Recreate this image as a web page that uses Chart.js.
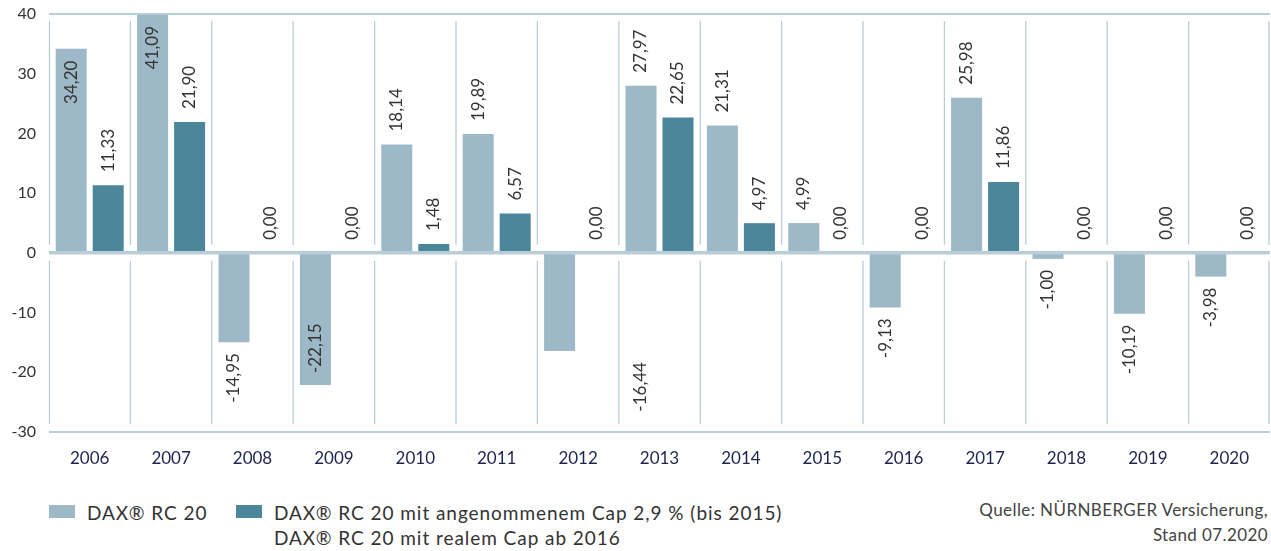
<!DOCTYPE html>
<html lang="de">
<head>
    <meta charset="UTF-8">
    <title>DAX RC 20</title>
    <script src="https://cdn.jsdelivr.net/npm/chart.js@4.4.1/dist/chart.umd.min.js"></script>
    <style>
        body { margin: 0; background: #fff; font-family: Lato, sans-serif; }
        .wrapper { position: relative; width: 1271px; height: 551px; }
        #myChart { position: absolute; left: 0; top: 0; }
        .legend { position: absolute; top: 500px; color: #333; font-size: 19px; line-height: 25px; letter-spacing: 0.95px; white-space: nowrap; }
        .swatch { position: absolute; top: 505px; width: 26px; height: 13px; }
        .source { position: absolute; right: 3px; top: 497px; text-align: right; color: #444; font-size: 17px; line-height: 25px; letter-spacing: 0.4px; }
    </style>
</head>
<body>
    <div class="wrapper">
        <canvas id="myChart" width="1271" height="480"></canvas>
        <div class="swatch" style="left:49px; background:#9db9c7;"></div>
        <div class="legend" style="left:87px;">DAX® RC 20</div>
        <div class="swatch" style="left:236px; background:#4b869b;"></div>
        <div class="legend" style="left:274px;">DAX® RC 20 mit angenommenem Cap 2,9 % (bis 2015)<br>DAX® RC 20 mit realem Cap ab 2016</div>
        <div class="source">Quelle: NÜRNBERGER Versicherung,<br>Stand 07.2020</div>
    </div>
    <script>
        var years = ['2006', '2007', '2008', '2009', '2010', '2011', '2012', '2013', '2014', '2015', '2016', '2017', '2018', '2019', '2020'];
        var daxRc20 = [34.20, 41.09, -14.95, -22.15, 18.14, 19.89, -16.44, 27.97, 21.31, 4.99, -9.13, 25.98, -1.00, -10.19, -3.98];
        var daxRc20Cap = [11.33, 21.90, 0.00, 0.00, 1.48, 6.57, 0.00, 22.65, 4.97, 0.00, 0.00, 11.86, 0.00, 0.00, 0.00];
        var yTicks = [40, 30, 20, 10, 0, -10, -20, -30];

        var lineColor = '#b9cdd9';

        // grid lines: full horizontal lines at top/zero/bottom, broken vertical lines between years
        var gridPlugin = {
            id: 'gridLines',
            beforeDatasetsDraw: function(chart) {
                var ctx = chart.ctx, area = chart.chartArea;
                var x = chart.scales.x, y = chart.scales.y;
                var zero = y.getPixelForValue(0);
                var step = x.getPixelForValue(1) - x.getPixelForValue(0);
                ctx.save();
                ctx.strokeStyle = lineColor;
                ctx.lineWidth = 1.3;
                for (var i = 0; i <= years.length; i++) {
                    var px = i < years.length ? x.getPixelForValue(i) - step / 2 : area.right - 1;
                    if (i == 0) px = area.left + 0.5;
                    ctx.beginPath();
                    ctx.moveTo(px, area.top + 7);
                    ctx.lineTo(px, zero - 8);
                    ctx.moveTo(px, zero + 8);
                    ctx.lineTo(px, area.bottom - 8);
                    ctx.stroke();
                }
                ctx.restore();
            },
            afterDatasetsDraw: function(chart) {
                var ctx = chart.ctx, area = chart.chartArea, y = chart.scales.y;
                ctx.save();
                ctx.strokeStyle = lineColor;
                [[y.max, 2], [0, 3.5], [y.min, 2]].forEach(function(l) {
                    var py = y.getPixelForValue(l[0]);
                    ctx.lineWidth = l[1];
                    ctx.beginPath();
                    ctx.moveTo(area.left, py);
                    ctx.lineTo(area.right, py);
                    ctx.stroke();
                });
                ctx.restore();
            }
        };

        // rotated value labels, outside the bar when they fit, else inside
        var valuePlugin = {
            id: 'valueLabels',
            afterDraw: function(chart) {
                var ctx = chart.ctx, area = chart.chartArea;
                ctx.save();
                ctx.font = '17px Lato';
                ctx.fillStyle = '#333';
                ctx.textAlign = 'left';
                ctx.textBaseline = 'middle';
                chart.data.datasets.forEach(function(ds, d) {
                    var meta = chart.getDatasetMeta(d);
                    ds.data.forEach(function(v, i) {
                        var bar = meta.data[i];
                        var txt = v.toFixed(2).replace('.', ',');
                        var w = ctx.measureText(txt).width;
                        var top = Math.max(bar.y, area.top);
                        var bottom = Math.min(bar.y, area.bottom);
                        var x = bar.x, start;
                        if (v >= 0) {
                            start = top - 13;
                            if (start - w < area.top) start = top + 12 + w;
                        } else {
                            start = bottom + 11 + w;
                            if (start > area.bottom) start = bottom - 12;
                        }
                        // 2012 label sits in the 2013 column in the original
                        if (d == 0 && i == 6) x = chart.getDatasetMeta(0).data[7].x;
                        ctx.save();
                        ctx.translate(x, start);
                        ctx.rotate(-Math.PI / 2);
                        ctx.fillText(txt, 0, 0);
                        ctx.restore();
                    });
                });
                ctx.restore();
            }
        };

        Chart.defaults.font.family = 'Lato';
        var ctx = document.getElementById("myChart").getContext('2d');
        var chart = new Chart(ctx, {
            type: 'bar',
            data: {
                labels: years,
                datasets: [
                    { label: 'DAX® RC 20', data: daxRc20, backgroundColor: '#9db9c7' },
                    { label: 'DAX® RC 20 mit Cap', data: daxRc20Cap, backgroundColor: '#4b869b' }
                ]
            },
            options: {
                responsive: false,
                animation: false,
                layout: { padding: { top: 14, right: 1, left: 0, bottom: 0 } },
                datasets: { bar: { categoryPercentage: 0.909, barPercentage: 0.838 } },
                plugins: {
                    legend: { display: false },
                    tooltip: { enabled: false }
                },
                scales: {
                    x: {
                        grid: { display: false, drawTicks: false },
                        border: { display: false },
                        ticks: { color: '#1f2350', font: { size: 17 }, padding: 16 },
                        afterFit: function(s) { s.height = 48; s.paddingLeft = 0; s.paddingRight = 0; }
                    },
                    y: {
                        min: -30,
                        max: 40,
                        afterBuildTicks: function(s) { s.ticks = yTicks.map(function(v) { return { value: v }; }); },
                        grid: { display: false, drawTicks: false },
                        border: { display: false },
                        ticks: { color: '#333', font: { size: 16 }, padding: 13 },
                        afterFit: function(s) { s.width = 49; s.paddingTop = 0; s.paddingBottom = 0; }
                    }
                }
            },
            plugins: [gridPlugin, valuePlugin]
        });
    </script>
</body>
</html>
